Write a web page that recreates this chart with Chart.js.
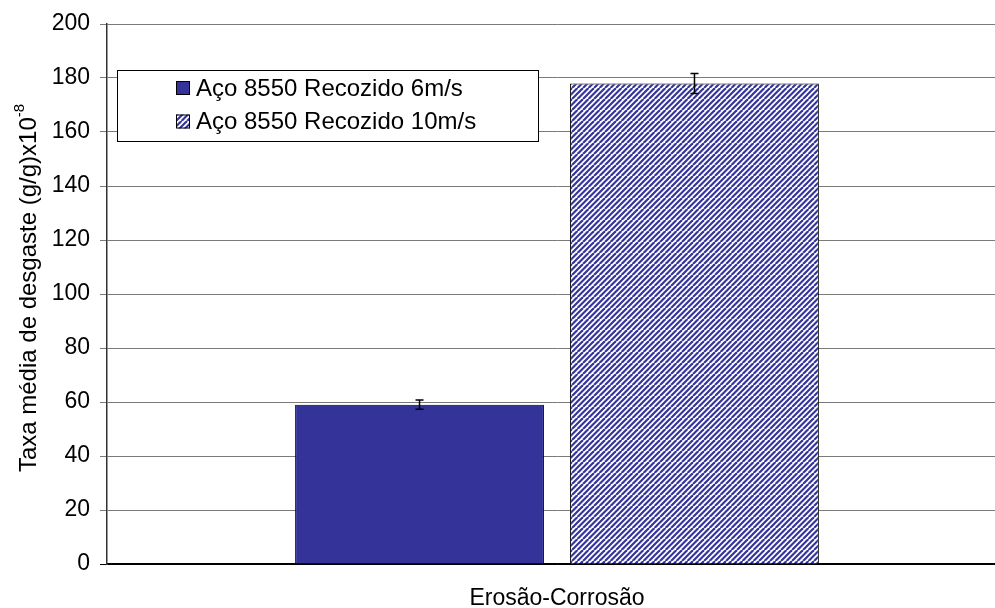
<!DOCTYPE html>
<html>
<head>
<meta charset="utf-8">
<script src="https://cdn.jsdelivr.net/npm/chart.js@4/dist/chart.umd.min.js"></script>
<style>
  html, body { margin: 0; padding: 0; background: #fff; overflow: hidden; }
  #wrap { width: 1010px; height: 608px; position: relative; }
</style>
</head>
<body>
<div id="wrap"><canvas id="c" width="1010" height="608"></canvas></div>
<script>
// Wear-rate data for annealed 8550 steel under erosion-corrosion
const categories = ['Erosão-Corrosão'];
const seriesLabels = ['Aço 8550 Recozido 6m/s', 'Aço 8550 Recozido 10m/s'];
const recozido6 = [59];
const recozido10 = [178];
const erro6 = [1.7];
const erro10 = [3.7];
const yMin = 0, yMax = 200, yStep = 20;
const yTitle = 'Taxa média de desgaste (g/g)x10';
const yTitleSup = '-8';

const FONT = '"Liberation Sans", Arial, sans-serif';
const BLUE = '#333399';

// diagonal hatch (upward stripes) for the 10 m/s series
function makeHatch() {
  const t = 11;
  const c = document.createElement('canvas');
  c.width = t; c.height = t;
  const g = c.getContext('2d');
  g.fillStyle = '#ffffff';
  g.fillRect(0, 0, t, t);
  g.strokeStyle = '#34349c';
  g.lineWidth = 2.2;
  for (let k = -2 * t; k <= 2 * t; k += t / 2) {
    g.beginPath();
    g.moveTo(k, t);
    g.lineTo(k + t, 0);
    g.stroke();
  }
  return g.createPattern(c, 'repeat');
}
const hatch = makeHatch();

const errorSets = [erro6, erro10];

const errorBars = {
  id: 'errorBars',
  afterDatasetsDraw(chart) {
    const ctx = chart.ctx, y = chart.scales.y;
    ctx.save();
    ctx.strokeStyle = '#000';
    ctx.lineWidth = 1.5;
    chart.data.datasets.forEach((ds, di) => {
      const meta = chart.getDatasetMeta(di);
      meta.data.forEach((bar, i) => {
        const v = ds.data[i], e = errorSets[di][i];
        const x = bar.x;
        const yt = y.getPixelForValue(v + e), yb = y.getPixelForValue(v - e);
        ctx.beginPath();
        ctx.moveTo(x, yt); ctx.lineTo(x, yb);
        ctx.moveTo(x - 4, yt); ctx.lineTo(x + 4, yt);
        ctx.moveTo(x - 4, yb); ctx.lineTo(x + 4, yb);
        ctx.stroke();
      });
    });
    ctx.restore();
  }
};

const boxLegend = {
  id: 'boxLegend',
  afterDraw(chart) {
    const ctx = chart.ctx;
    const L = 117.5, T = 70.5, W = 421, H = 71;
    ctx.save();
    ctx.fillStyle = '#fff';
    ctx.fillRect(L, T, W, H);
    ctx.strokeStyle = '#000';
    ctx.lineWidth = 1;
    ctx.strokeRect(L, T, W, H);
    ctx.font = '24px ' + FONT;
    ctx.textBaseline = 'middle';
    ctx.textAlign = 'left';
    const rows = [88, 121.5];
    chart.data.datasets.forEach((ds, i) => {
      const cy = rows[i];
      ctx.fillStyle = ds.backgroundColor;
      ctx.fillRect(176, cy - 7, 14, 14);
      ctx.strokeStyle = '#000';
      ctx.strokeRect(176.5, cy - 6.5, 13, 13);
      ctx.fillStyle = '#000';
      ctx.fillText(ds.label, 196, cy + 1);
    });
    ctx.restore();
  }
};

const yAxisTitle = {
  id: 'yAxisTitle',
  afterDraw(chart) {
    const ctx = chart.ctx, a = chart.chartArea;
    ctx.save();
    ctx.translate(27, (a.top + a.bottom) / 2 - 6);
    ctx.rotate(-Math.PI / 2);
    ctx.font = '24px ' + FONT;
    const w1 = ctx.measureText(yTitle).width;
    ctx.font = '15px ' + FONT;
    const w2 = ctx.measureText(yTitleSup).width;
    const start = -(w1 + w2) / 2;
    ctx.fillStyle = '#000';
    ctx.textBaseline = 'alphabetic';
    ctx.font = '24px ' + FONT;
    ctx.fillText(yTitle, start, 9);
    ctx.font = '15px ' + FONT;
    ctx.fillText(yTitleSup, start + w1, -3);
    ctx.restore();
  }
};

new Chart(document.getElementById('c'), {
  type: 'bar',
  data: {
    labels: categories,
    datasets: [
      { label: seriesLabels[0], data: recozido6, backgroundColor: BLUE,
        borderColor: '#000', borderWidth: 1 },
      { label: seriesLabels[1], data: recozido10, backgroundColor: hatch,
        borderColor: '#000', borderWidth: 1 }
    ]
  },
  options: {
    responsive: false,
    animation: false,
    events: [],
    layout: { padding: { top: 24, right: 3, left: 0, bottom: 0 } },
    plugins: { legend: { display: false }, tooltip: { enabled: false } },
    datasets: { bar: { categoryPercentage: 0.611, barPercentage: 0.905 } },
    scales: {
      x: {
        grid: { display: false, drawTicks: false },
        border: { display: true, color: '#000', width: 1.5 },
        ticks: { color: '#000', font: { family: FONT, size: 23 }, padding: 21 },
        afterFit(s) { s.height = 44; }
      },
      y: {
        min: yMin, max: yMax,
        grid: {
          color: (c) => c.tick && c.tick.value === 0 ? '#000' : '#7a7a7a',
          tickLength: 7, lineWidth: 1
        },
        border: { display: true, color: '#333', width: 1.5 },
        ticks: { stepSize: yStep, color: '#000', font: { family: FONT, size: 23 }, padding: 10 },
        afterFit(s) { s.width = 107; }
      }
    }
  },
  plugins: [errorBars, boxLegend, yAxisTitle]
});
</script>
</body>
</html>
